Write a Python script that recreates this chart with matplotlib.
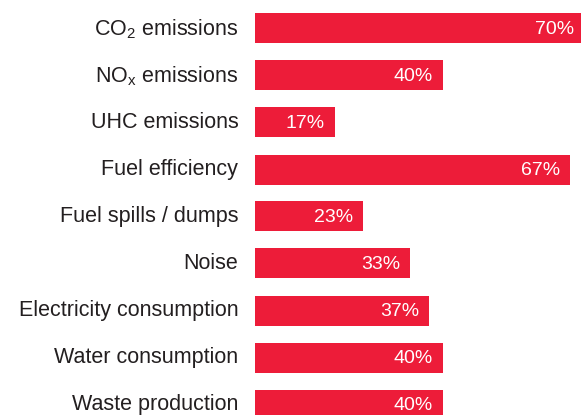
import matplotlib
matplotlib.use('Agg')
import matplotlib.pyplot as plt
import matplotlib.transforms as mtransforms

plt.rcParams['font.family'] = ['Liberation Sans', 'DejaVu Sans']
plt.rcParams['mathtext.fontset'] = 'custom'
plt.rcParams['mathtext.rm'] = 'Liberation Sans'
plt.rcParams['mathtext.it'] = 'Liberation Sans:italic'

# ── Datos ─────────────────────────────────────────────────────────────────────
categories = [
    r'CO$_2$ emissions',
    r'NO$_\mathrm{x}$ emissions',
    'UHC emissions',
    'Fuel efficiency',
    'Fuel spills / dumps',
    'Noise',
    'Electricity consumption',
    'Water consumption',
    'Waste production',
]
values = [70, 40, 17, 67, 23, 33, 37, 40, 40]

RED  = '#ed1c39'
TEXT = '#231f20'

# ── Figura ────────────────────────────────────────────────────────────────────
W, H = 581, 415
fig = plt.figure(figsize=(W / 100, H / 100), dpi=100)
ax = fig.add_axes([255 / W, 0, 1 - 255 / W, 1])

px_per_unit = 4.7
pitch = 47.0
ypos = list(range(len(categories)))
ax.barh(ypos, values, height=30 / pitch, color=RED, edgecolor='none')

ax.set_xlim(0, (W - 255) / px_per_unit)
ax.set_ylim((H - 28.5) / pitch, -28.5 / pitch)

for y, v in zip(ypos, values):
    ax.text(v - 10 / px_per_unit, y + 0.03, f'{v}%', color='white',
            fontsize=14, ha='right', va='center')

ax.set_yticks(ypos)
ax.set_yticklabels(categories, fontsize=15.5, color=TEXT)
ax.tick_params(axis='y', length=0, pad=12)
shift = mtransforms.ScaledTranslation(0, 1.5 / 72, fig.dpi_scale_trans)
for lbl in ax.get_yticklabels():
    lbl.set_transform(lbl.get_transform() + shift)
ax.set_xticks([])
for sp in ax.spines.values():
    sp.set_visible(False)

fig.savefig('out.png', dpi=100, facecolor='white')
